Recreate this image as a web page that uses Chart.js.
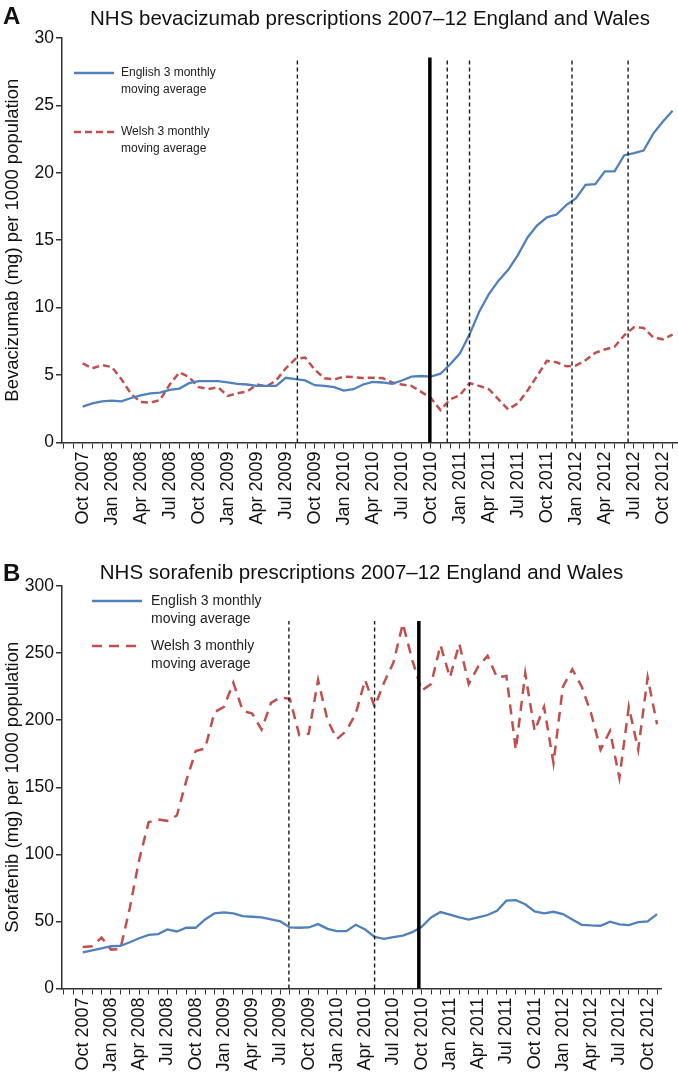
<!DOCTYPE html>
<html><head><meta charset="utf-8">
<script src="https://cdn.jsdelivr.net/npm/chart.js@4.4.1/dist/chart.umd.min.js"></script>
<style>
html,body{margin:0;padding:0;background:#fff;}
.panel{position:relative;width:678px;height:543px;}
canvas{display:block;}
</style></head><body>
<div class="panel"><canvas id="cA" width="678" height="543"></canvas></div>
<div class="panel"><canvas id="cB" width="678" height="543"></canvas></div>
<script>
// ---- data (month index 0 = Oct 2007 ... 61 = Nov 2012) ----
const tickLabels = ["Oct 2007","Jan 2008","Apr 2008","Jul 2008","Oct 2008","Jan 2009","Apr 2009","Jul 2009","Oct 2009","Jan 2010","Apr 2010","Jul 2010","Oct 2010","Jan 2011","Apr 2011","Jul 2011","Oct 2011","Jan 2012","Apr 2012","Jul 2012","Oct 2012"];

const englishBev = [2.66,2.9,3.05,3.1,3.05,3.3,3.5,3.65,3.7,3.9,
  4.0,4.4,4.55,4.55,4.55,4.45,4.35,4.3,4.2,4.2,
  4.2,4.8,4.7,4.6,4.25,4.2,4.1,3.85,3.95,4.3,
  4.5,4.45,4.35,4.6,4.88,4.93,4.88,5.1,5.8,6.6,
  8.0,9.7,11.0,12.0,12.8,13.9,15.2,16.1,16.7,16.9,
  17.6,18.1,19.1,19.15,20.1,20.1,21.3,21.45,21.65,22.9,
  23.8,24.6];
const welshBev = [5.87,5.5,5.74,5.6,4.7,3.6,3.0,2.95,3.15,4.3,
  5.2,4.85,4.1,3.97,4.1,3.45,3.65,3.77,4.3,4.15,
  4.6,5.5,6.2,6.3,5.4,4.76,4.68,4.88,4.85,4.78,
  4.81,4.78,4.45,4.3,4.2,3.75,3.3,2.4,3.2,3.5,
  4.4,4.2,3.95,3.2,2.45,2.9,3.85,4.95,6.05,5.95,
  5.65,5.7,6.1,6.65,6.9,7.1,7.95,8.55,8.5,7.8,
  7.65,8.0];
const englishSor = [27,28.5,30,31.5,31.7,34.5,37.5,40,40.6,44,
  42.5,45.3,45.3,51.5,56,56.7,56,54,53.5,53,
  51.5,50,45.5,45.3,45.5,48,44.5,42.8,42.8,47.5,
  44,38.5,37,38.3,39.5,42,46,53,57,55,
  53,51.3,53,54.8,58,65.5,65.9,62.8,57.5,56,
  57.2,55.5,51.5,47.5,47,46.8,49.8,47.8,47.3,49.5,
  50,55.5];
const welshSor = [31,31.5,38,29,29.5,60,96,124,126,125,
  129,155,177,179,206,210,228,207,205,193,
  213,217,216,189,190,230,200,186,192,205,
  230,210,228,243,272,245,222,227,256,232,
  257,227,240,248,232,233,178,235,192,210,
  168,225,238,225,205,178,192,157,210,178,
  232,197];

// event markers (month index)
const bevSolid = [35.9];
const bevDashed = [22.2, 37.7, 40.0, 50.6, 56.4];
const sorSolid = [35.7];
const sorDashed = [21.9, 31.0];

const BLUE = '#4f81bd', RED = '#c0504d', INK = '#111';
const FONT = "'Liberation Sans', Arial, Helvetica, sans-serif";
Chart.defaults.font.family = FONT;
Chart.defaults.color = INK;

const monthTicks = [];
for (let m = -2; m <= 61; m++) monthTicks.push(m);

const toPts = arr => arr.map((v, i) => ({x: i, y: v}));

const eventLines = {
  id: 'eventLines',
  afterDatasetsDraw(chart, args, o) {
    const {ctx} = chart; const x = chart.scales.x, y = chart.scales.y;
    const yb = y.getPixelForValue(0), yt = y.getPixelForValue(o.top);
    ctx.save();
    ctx.strokeStyle = '#1a1a1a';
    ctx.lineWidth = 1.4; ctx.setLineDash([4, 3]);
    o.dashed.forEach(v => { const px = x.getPixelForValue(v); ctx.beginPath(); ctx.moveTo(px, yb); ctx.lineTo(px, yt); ctx.stroke(); });
    ctx.setLineDash([]); ctx.lineWidth = 3.5; ctx.strokeStyle = '#000';
    o.solid.forEach(v => { const px = x.getPixelForValue(v); ctx.beginPath(); ctx.moveTo(px, yb); ctx.lineTo(px, yt); ctx.stroke(); });
    ctx.restore();
  }
};

const decor = {
  id: 'decor',
  afterDraw(chart, args, o) {
    const {ctx} = chart;
    ctx.save();
    ctx.fillStyle = INK;
    ctx.font = 'bold 24px ' + FONT;
    ctx.textBaseline = 'middle'; ctx.textAlign = 'left';
    ctx.fillText(o.letter, 3, o.letterY);
    const L = o.legend;
    ctx.font = L.size + 'px ' + FONT;
    L.items.forEach(it => {
      ctx.strokeStyle = it.color; ctx.lineWidth = it.width;
      ctx.setLineDash(it.dash);
      ctx.beginPath(); ctx.moveTo(L.x0, it.y); ctx.lineTo(L.x1, it.y); ctx.stroke();
      ctx.setLineDash([]);
      ctx.fillStyle = '#222';
      it.lines.forEach((t, k) => ctx.fillText(t, L.xt, it.y + k * L.gap));
    });
    ctx.restore();
  }
};

function makeChart(id, cfg) {
  return new Chart(document.getElementById(id), {
    type: 'line',
    data: { datasets: [
      { label: 'English 3 monthly moving average', data: toPts(cfg.eng), borderColor: BLUE, borderWidth: 2.3, pointRadius: 0, tension: 0 },
      { label: 'Welsh 3 monthly moving average', data: toPts(cfg.wel), borderColor: RED, borderWidth: 2.5, borderDash: cfg.redDash, pointRadius: 0, tension: 0 }
    ]},
    options: {
      responsive: false, animation: false, devicePixelRatio: 1,
      layout: { padding: { left: 0, right: cfg.padRight, top: 0, bottom: 0 } },
      plugins: {
        legend: { display: false }, tooltip: { enabled: false },
        title: { display: true, fullSize: false, text: cfg.title, color: INK,
          font: { size: 20.5, weight: 'normal', lineHeight: 1.2 }, padding: cfg.titlePad },
        eventLines: { solid: cfg.solid, dashed: cfg.dashed, top: cfg.evTop },
        decor: { letter: cfg.letter, letterY: cfg.letterY, legend: cfg.legend }
      },
      scales: {
        x: {
          type: 'linear', min: cfg.xmin, max: cfg.xmax,
          afterBuildTicks: s => { s.ticks = monthTicks.map(v => ({value: v})); },
          afterFit: s => { s.height = cfg.xh; s.paddingLeft = 0; s.paddingRight = 0; },
          ticks: { autoSkip: false, minRotation: 90, maxRotation: 90, padding: 3, color: INK,
            font: { size: 18 },
            callback: v => (v >= 0 && v % 3 === 0) ? tickLabels[v / 3] : '' },
          grid: { drawOnChartArea: false, drawTicks: true, tickLength: 6, color: '#333', lineWidth: 1 },
          border: { display: true, color: '#333', width: 1.5 }
        },
        y: {
          min: 0, max: cfg.ymax,
          afterFit: s => { s.width = 62; s.paddingTop = 0; s.paddingBottom = 0; },
          ticks: { stepSize: cfg.ystep, padding: 2, color: INK, font: { size: 17.5 } },
          grid: { drawOnChartArea: false, drawTicks: true, tickLength: 6, color: '#333', lineWidth: 1.5 },
          border: { display: true, color: '#333', width: 1.5 },
          title: { display: true, text: cfg.ytitle, color: INK, font: { size: 18.5 }, padding: { top: 2, bottom: 0 } }
        }
      }
    },
    plugins: [eventLines, decor]
  });
}

makeChart('cA', {
  eng: englishBev, wel: welshBev, redDash: [7, 4],
  title: 'NHS bevacizumab prescriptions 2007\u201312 England and Wales',
  titlePad: { top: 7, bottom: 6.3 },
  xmin: -2.14, xmax: 61.56, xh: 100.5, padRight: 0,
  ymax: 30, ystep: 5, ytitle: 'Bevacizumab (mg) per 1000 population',
  solid: bevSolid, dashed: bevDashed, evTop: 28.55,
  letter: 'A', letterY: 17,
  legend: { x0: 74, x1: 114, xt: 121, size: 12, gap: 17, items: [
    { y: 73, color: BLUE, width: 2.3, dash: [], lines: ['English 3 monthly', 'moving average'] },
    { y: 132, color: RED, width: 2.5, dash: [7, 4], lines: ['Welsh 3 monthly', 'moving average'] }
  ]}
});

makeChart('cB', {
  eng: englishSor, wel: welshSor, redDash: [10, 7],
  title: 'NHS sorafenib prescriptions 2007\u201312 England and Wales',
  titlePad: { top: 18, bottom: 0.5 },
  xmin: -2.2, xmax: 61.42, xh: 97.5, padRight: 17,
  ymax: 300, ystep: 50, ytitle: 'Sorafenib (mg) per 1000 population',
  solid: sorSolid, dashed: sorDashed, evTop: 274,
  letter: 'B', letterY: 31,
  legend: { x0: 92, x1: 142, xt: 151, size: 14, gap: 18, items: [
    { y: 58, color: BLUE, width: 2.3, dash: [], lines: ['English 3 monthly', 'moving average'] },
    { y: 103, color: RED, width: 2.5, dash: [10, 7], lines: ['Welsh 3 monthly', 'moving average'] }
  ]}
});
</script>
</body></html>
